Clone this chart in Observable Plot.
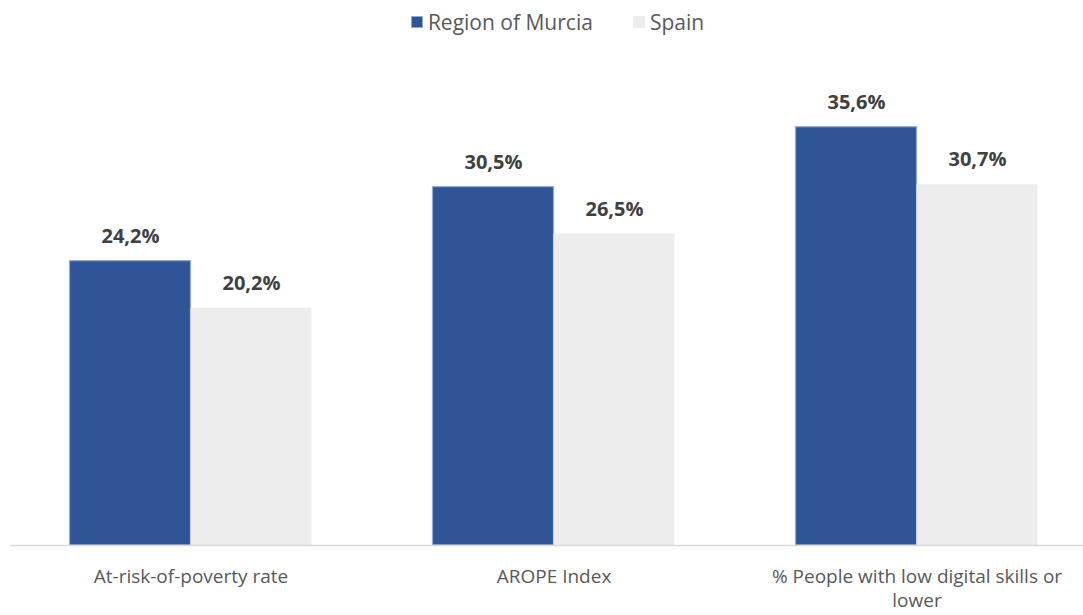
<!DOCTYPE html>
<html>
<head>
<meta charset="utf-8">
<script src="https://cdn.jsdelivr.net/npm/d3@7"></script>
<script src="https://cdn.jsdelivr.net/npm/@observablehq/plot@0.6"></script>
<style>
  html, body { margin: 0; padding: 0; background: #fff; }
  body { width: 1083px; height: 615px; overflow: hidden; font-family: "Open Sans", sans-serif; }
  #legend { height: 48px; display: flex; justify-content: center; align-items: center; padding-bottom: 4px; padding-left: 32px; box-sizing: border-box; font-size: 21px; color: #595959; }
  .item { display: flex; align-items: center; margin: 0 20px; }
  .sw { width: 12px; height: 12px; margin-right: 5px; box-sizing: border-box; }
</style>
</head>
<body>
<div id="legend"></div>
<div id="chart"></div>
<script>
const categories = ["At-risk-of-poverty rate", "AROPE Index", "% People with low digital skills or lower"];
const series = ["Region of Murcia", "Spain"];
const murcia = [24.2, 30.5, 35.6];
const spain = [20.2, 26.5, 30.7];
const tickLabels = ["At-risk-of-poverty rate", "AROPE Index", "% People with low digital skills or\nlower"];

const colors = {"Region of Murcia": "#2F5597", "Spain": "#EDEDED"};
const strokes = {"Region of Murcia": "#8FAADC", "Spain": "#EDEDED"};

const data = [];
categories.forEach((c, i) => {
  data.push({category: c, series: series[0], value: murcia[i]});
  data.push({category: c, series: series[1], value: spain[i]});
});

const legend = document.getElementById("legend");
series.forEach(s => {
  const it = document.createElement("div");
  it.className = "item";
  const sw = document.createElement("div");
  sw.className = "sw";
  sw.style.background = colors[s];
  sw.style.border = "1px solid " + strokes[s];
  const t = document.createElement("span");
  t.textContent = s;
  it.appendChild(sw); it.appendChild(t);
  legend.appendChild(it);
});

const half = 363 / 2;
const gap = 60.5;
const offset = 60.5;
const fmt = v => v.toFixed(1).replace(".", ",") + "%";
const labelStyle = {fontWeight: "bold", fontSize: 20, fill: "#404040", dy: -25};

const chart = Plot.plot({
  width: 1083,
  height: 567,
  marginLeft: 10,
  marginRight: 0,
  marginTop: 27,
  marginBottom: 70,
  style: {fontFamily: "'Open Sans', sans-serif", background: "#fff"},
  x: {domain: categories, range: [8.5, 1097.5], padding: 0, axis: null},
  y: {domain: [0, 40], axis: null},
  marks: [
    Plot.barY(data.filter(d => d.series === series[0]), {
      x: "category", y: "value", fill: colors[series[0]], stroke: strokes[series[0]], strokeWidth: 1.2,
      insetLeft: gap, insetRight: half
    }),
    Plot.barY(data.filter(d => d.series === series[1]), {
      x: "category", y: "value", fill: colors[series[1]],
      insetLeft: half, insetRight: gap
    }),
    Plot.text(data.filter(d => d.series === series[0]), {
      x: "category", y: "value", text: d => fmt(d.value), dx: -offset, ...labelStyle
    }),
    Plot.text(data.filter(d => d.series === series[1]), {
      x: "category", y: "value", text: d => fmt(d.value), dx: offset, ...labelStyle
    }),
    Plot.ruleY([0], {stroke: "#D9D9D9", strokeWidth: 1.5}),
    Plot.axisX({
      tickSize: 0, tickPadding: 21, fontSize: 19, color: "#595959",
      tickFormat: d => tickLabels[categories.indexOf(d)], label: null, lineHeight: 1.25
    })
  ]
});
document.getElementById("chart").appendChild(chart);
</script>
</body>
</html>
